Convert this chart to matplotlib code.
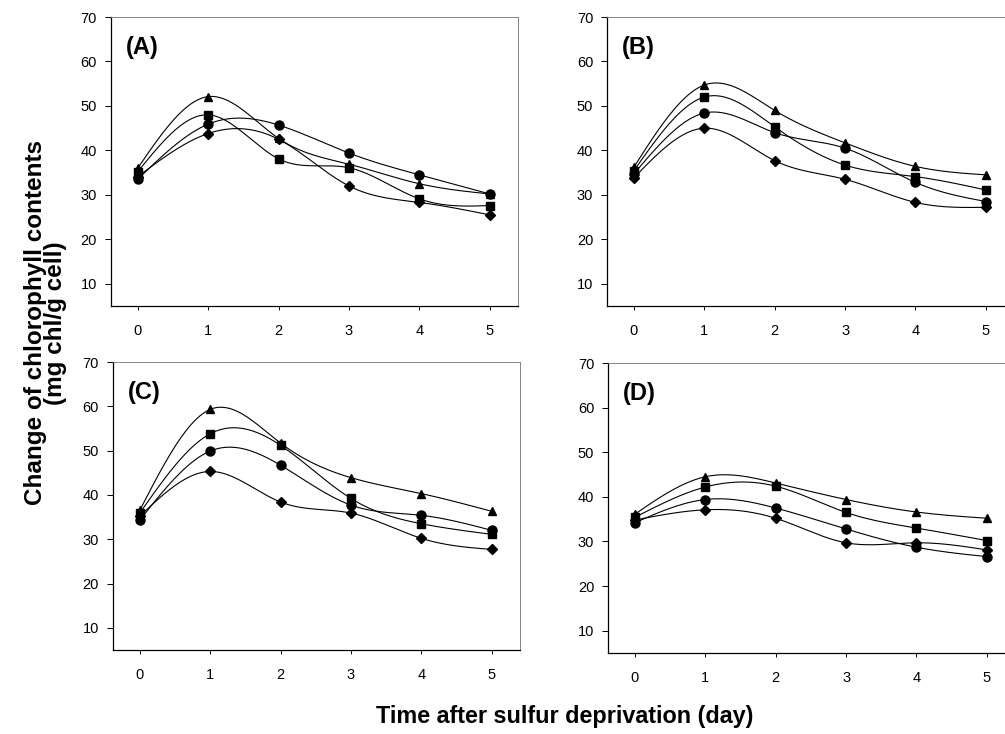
import numpy as np
import matplotlib
matplotlib.use("Agg")
import matplotlib.pyplot as plt

plt.rcParams['font.family'] = ['Liberation Sans', 'DejaVu Sans']

days = [0, 1, 2, 3, 4, 5]
panel_labels = ["(A)", "(B)", "(C)", "(D)"]

# values (mg chl/g cell)
tri_A = [36.0, 52.1, 42.7, 36.9, 32.5, 30.2]
sq_A = [35.2, 48.0, 38.1, 36.1, 29.1, 27.6]
cir_A = [33.5, 45.9, 45.7, 39.4, 34.5, 30.2]
dia_A = [34.1, 43.8, 42.5, 32.0, 28.3, 25.5]

tri_B = [36.2, 54.7, 49.0, 41.7, 36.4, 34.5]
sq_B = [35.4, 52.0, 45.3, 36.7, 34.1, 31.1]
cir_B = [34.7, 48.4, 44.0, 40.5, 32.8, 28.5]
dia_B = [33.8, 45.0, 37.7, 33.5, 28.3, 27.2]

tri_C = [36.5, 59.3, 51.7, 43.9, 40.3, 36.3]
sq_C = [35.9, 53.8, 51.2, 39.2, 33.5, 31.1]
cir_C = [34.3, 49.9, 46.7, 37.7, 35.4, 32.0]
dia_C = [35.2, 45.3, 38.4, 35.9, 30.2, 27.7]

tri_D = [36.1, 44.5, 43.1, 39.4, 36.6, 35.2]
sq_D = [35.4, 42.2, 42.4, 36.5, 33.0, 30.2]
cir_D = [34.2, 39.4, 37.5, 32.8, 28.7, 26.6]
dia_D = [34.8, 37.1, 35.2, 29.7, 29.7, 28.1]

panels = [
    [tri_A, sq_A, cir_A, dia_A],
    [tri_B, sq_B, cir_B, dia_B],
    [tri_C, sq_C, cir_C, dia_C],
    [tri_D, sq_D, cir_D, dia_D],
]
markers = ['^', 's', 'o', 'D']
msizes = [6, 5.5, 6.5, 5.5]


def natural_spline(x, y, n=200):
    # plain natural cubic spline, like the smoothed lines of the original
    x = np.asarray(x, float)
    y = np.asarray(y, float)
    k = len(x)
    h = np.diff(x)
    A = np.zeros((k, k))
    b = np.zeros(k)
    A[0, 0] = 1
    A[-1, -1] = 1
    for i in range(1, k - 1):
        A[i, i - 1] = h[i - 1]
        A[i, i] = 2 * (h[i - 1] + h[i])
        A[i, i + 1] = h[i]
        b[i] = 6 * ((y[i + 1] - y[i]) / h[i] - (y[i] - y[i - 1]) / h[i - 1])
    M = np.linalg.solve(A, b)
    xs = np.linspace(x[0], x[-1], n)
    ys = np.empty_like(xs)
    for j, t in enumerate(xs):
        i = min(np.searchsorted(x, t, side='right') - 1, k - 2)
        a = x[i + 1] - t
        c = t - x[i]
        ys[j] = (M[i] * a**3 + M[i + 1] * c**3) / (6 * h[i]) \
            + (y[i] / h[i] - M[i] * h[i] / 6) * a \
            + (y[i + 1] / h[i] - M[i + 1] * h[i] / 6) * c
    return xs, ys


fig = plt.figure(figsize=(10.05, 7.34), dpi=100)
positions = [
    [0.1104, 0.5831, 0.405, 0.3937],
    [0.604, 0.5831, 0.405, 0.3937],
    [0.1124, 0.1144, 0.405, 0.3924],
    [0.605, 0.1104, 0.405, 0.395],
]

for p in range(4):
    ax = fig.add_axes(positions[p])
    for s, series in enumerate(panels[p]):
        xs, ys = natural_spline(days, series)
        ax.plot(xs, ys, color='black', lw=0.8)
        ax.plot(days, series, linestyle='none', marker=markers[s],
                ms=msizes[s], color='black')
    ax.set_xlim(-0.38, 5.4)
    ax.set_ylim(5, 70)
    ax.set_xticks(days)
    ax.set_yticks([10, 20, 30, 40, 50, 60, 70])
    ax.tick_params(direction='out', length=3, width=0.7, labelsize=10.5)
    ax.tick_params(axis='x', pad=10)
    ax.tick_params(axis='y', length=4, pad=6)
    for side in ['left', 'bottom']:
        ax.spines[side].set_linewidth(0.9)
        ax.spines[side].set_color('black')
    for side in ['top', 'right']:
        ax.spines[side].set_linewidth(0.6)
        ax.spines[side].set_color('0.45')
    ax.text(-0.17, 63.2, panel_labels[p], fontsize=17, fontweight='bold',
            va='center', ha='left')

fig.text(0.045, 0.56, "Change of chlorophyll contents\n(mg chl/g cell)",
         rotation=90, ha='center', va='center', fontsize=17.5, fontweight='bold',
         linespacing=0.82)
fig.text(0.562, 0.024, "Time after sulfur deprivation (day)",
         ha='center', va='center', fontsize=16.8, fontweight='bold')

fig.savefig("out.png", dpi=100)
